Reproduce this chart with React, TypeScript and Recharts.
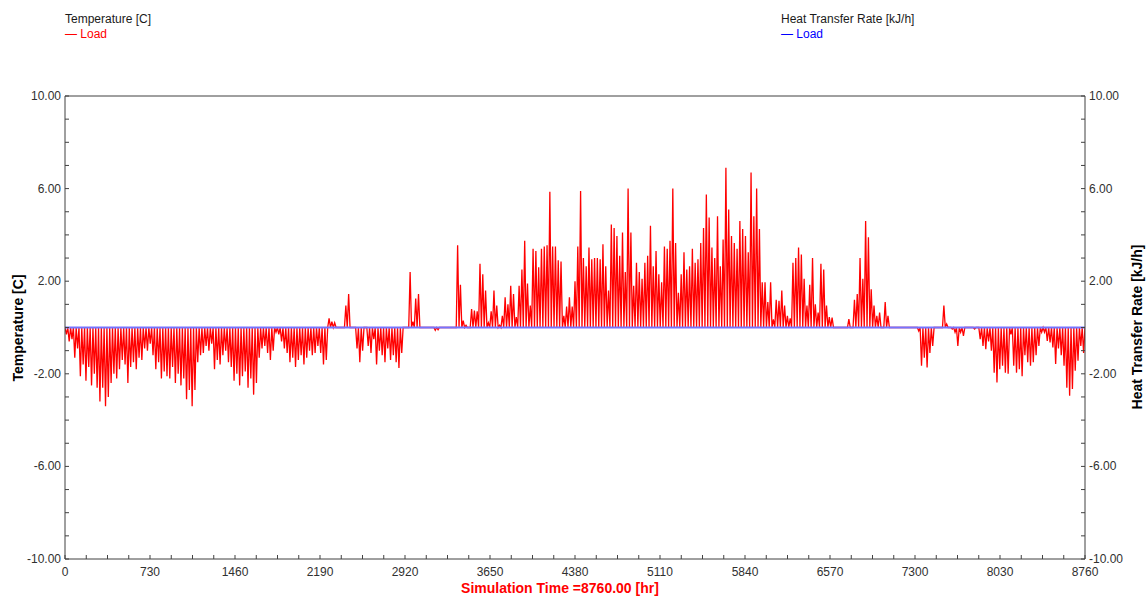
import React from "react";
import { LineChart, Line, XAxis, YAxis, ReferenceLine } from "recharts";

// Daily peak of the "Load" temperature curve (one value per day)
const PEAK_Q1 = [
  -0.3, -0.6, -0.5, -1.3, -0.9, -2.1, -1.6, -2.3, -1.7, -2.5,
  -2.0, -2.6, -3.2, -2.6, -3.4, -3.0, -2.4, -2.0, -2.2, -1.8,
  -1.4, -1.6, -2.4, -1.7, -1.5, -1.8, -1.3, -1.4, -0.9, -1.0,
  -0.7, -1.2, -1.8, -1.5, -2.2, -1.9, -2.1, -2.2, -1.7, -2.4,
  -2.0, -2.5, -2.2, -3.1, -2.7, -3.4, -2.7, -1.5, -1.2, -1.1,
  -0.8, -1.0, -0.7, -1.8, -1.4, -1.6, -1.2, -1.0, -1.5, -1.7,
  -2.3, -2.0, -2.5, -2.1, -1.9, -2.6, -2.2, -2.9, -2.4, -1.3,
  -0.9, -0.8, -1.1, -1.4, -1.0, -0.2, -0.3, -0.6, -0.9, -1.1,
  -1.5, -1.3, -1.7, -1.4, -1.2, -1.6, -1.3, -1.0, -1.2, -1.1,
  -0.8,
];
const PEAK_Q2 = [
  -1.1, -1.6, -1.4, 0.4, 0.25, 0.2, 0, 0, 0, 0.95,
  1.45, 0, 0, -0.9, -1.5, -1.0, 0, -0.8, -1.1, -0.5,
  -1.6, -1.0, -1.2, -1.5, -0.9, -1.4, -1.2, -1.5, -1.75, -1.1,
  0, 0, 2.4, 0.25, 1.25, 1.45, 0, 0, 0, 0,
  0, -0.12, -0.1, 0, 0, 0, 0, 0, 0, 3.55,
  1.85, 0.3, 0.1, 0, 0.8, 0.73, 0.7, 2.75, 2.3, 1.6,
  0.2, 0.7, 1.6, 0.95, 0.1, 0.5, 1.3, 1.0, 1.8, 1.45,
  0.45, 1.8, 2.5, 3.75, 1.9, 0.95, 3.4, 3.3, 2.6, 3.4,
  3.5, 3.55, 5.86, 3.5, 3.5, 2.9, 2.85, 0.5, 0.9, 1.3,
  0.9,
];
const PEAK_Q3 = [
  2.0, 3.5, 5.9, 3.0, 2.65, 3.45, 2.95, 3.0, 3.0, 2.95,
  3.6, 2.65, 1.6, 4.45, 4.3, 3.95, 3.1, 4.1, 2.4, 6.0,
  4.1, 1.8, 2.8, 2.4, 2.1, 2.8, 3.1, 4.4, 2.65, 3.3,
  2.3, 1.95, 3.5, 3.4, 3.75, 6.0, 3.65, 1.5, 2.3, 3.25,
  2.5, 2.65, 3.4, 2.8, 2.95, 3.65, 4.3, 5.75, 4.75, 3.45,
  3.0, 4.8, 2.65, 3.8, 6.9, 5.1, 3.95, 3.65, 3.4, 4.6,
  4.25, 3.95, 3.25, 6.7, 4.8, 6.0, 4.25, 1.95, 1.95, 1.1,
  1.95, 0.35, 1.2, 1.15, 1.6, 0.95, 0.5, 0.4, 2.8, 3.0,
  3.45, 3.15, 2.1, 0.95, 1.85, 3.0, 1.0, 0.65, 2.75, 2.5,
  0.95, 0.45,
];
const PEAK_Q4 = [
  0.43, 0, 0, 0, 0, 0, 0.36, 0, 1.2, 1.45,
  3.0, 2.1, 4.6, 3.9, 1.65, 0.95, 0.5, 0.65, 0, 1.1,
  0.5, 0, 0, 0, 0, 0, 0, 0, 0, 0,
  0, -0.15, -1.65, -1.3, -1.73, -1.1, -0.8, 0, 0, 0,
  0.95, 0.15, 0, -0.07, -0.2, -0.8, -0.2, -0.36, 0, 0,
  0, -0.07, 0, -0.5, -0.8, -0.94, -0.6, -1.0, -1.95, -2.37,
  -1.8, -1.65, -1.95, -2.0, -0.3, -1.65, -1.95, -1.8, -2.1, -1.2,
  -1.5, -1.65, -1.5, -1.2, -0.8, -0.2, -0.2, -0.58, -0.65, -0.86,
  -1.58, -0.9, -1.2, -1.65, -2.6, -2.95, -2.66, -1.87, -1.44, -0.8,
  -1.1,
];

// Heat transfer rate "Load" (flat at zero)
const HEAT_TIMES = [0, 8760];
const HEAT_VALUES = [0, 0];

// Axis ticks
const X_MAJOR = [0, 730, 1460, 2190, 2920, 3650, 4380, 5110, 5840, 6570, 7300, 8030, 8760];
const Y_MAJOR = [-10, -6, -2, 2, 6, 10];
const Y_TICKS = [-10, -9, -8, -7, -6, -5, -4, -3, -2, -1, 0, 1, 2, 3, 4, 5, 6, 7, 8, 9, 10];

const HOURS_PER_DAY = 24;
const PEAKS = [...PEAK_Q1, ...PEAK_Q2, ...PEAK_Q3, ...PEAK_Q4];
const loadData: { t: number; load: number }[] = [];
PEAKS.forEach((p, d) => {
  loadData.push({ t: d * HOURS_PER_DAY, load: 0 });
  loadData.push({ t: d * HOURS_PER_DAY + HOURS_PER_DAY / 2, load: p });
});
loadData.push({ t: 8760, load: 0 });

const heatData = HEAT_TIMES.map((t, i) => ({ t, heat: HEAT_VALUES[i] }));

const X_TICKS: number[] = [];
X_MAJOR.forEach((m, i) => {
  X_TICKS.push(m);
  if (i < X_MAJOR.length - 1) {
    const step = (X_MAJOR[i + 1] - m) / 4;
    X_TICKS.push(m + step, m + 2 * step, m + 3 * step);
  }
});

const W = 1146;
const H = 596;
const PLOT = { left: 65, right: 1085, top: 96, bottom: 559 };
const AXIS = "#404040";
const TXT = "#303030";
const FONT = "'Liberation Sans', Arial, sans-serif";

function LeftTick(props: any) {
  const { y, payload } = props;
  const v = payload.value;
  return (
    <g>
      <line x1={PLOT.left} x2={PLOT.left + 4} y1={y} y2={y} stroke={AXIS} />
      {Y_MAJOR.includes(v) && (
        <text x={PLOT.left - 4} y={y + 4} textAnchor="end" fontSize={12} fill={TXT} fontFamily={FONT}>
          {v.toFixed(2)}
        </text>
      )}
    </g>
  );
}

function RightTick(props: any) {
  const { y, payload } = props;
  const v = payload.value;
  return (
    <g>
      <line x1={PLOT.right - 4} x2={PLOT.right} y1={y} y2={y} stroke={AXIS} />
      {Y_MAJOR.includes(v) && (
        <text x={PLOT.right + 4} y={y + 4} textAnchor="start" fontSize={12} fill={TXT} fontFamily={FONT}>
          {v.toFixed(2)}
        </text>
      )}
    </g>
  );
}

function BottomTick(props: any) {
  const { x, payload } = props;
  const v = payload.value;
  return (
    <g>
      <line x1={x} x2={x} y1={PLOT.bottom - 4} y2={PLOT.bottom} stroke={AXIS} />
      {X_MAJOR.includes(v) && (
        <text x={x} y={PLOT.bottom + 17} textAnchor="middle" fontSize={12} fill={TXT} fontFamily={FONT}>
          {String(v)}
        </text>
      )}
    </g>
  );
}

export default function App() {
  return (
    <div style={{ position: "absolute", left: 0, top: 0, width: W, height: H, background: "#fff" }}>
      <LineChart width={W} height={H} margin={{ top: PLOT.top, right: 0, bottom: 0, left: 0 }}>
        <XAxis
          type="number"
          dataKey="t"
          domain={[0, 8760]}
          ticks={X_TICKS}
          interval={0}
          height={H - PLOT.bottom}
          tick={<BottomTick />}
          tickLine={false}
          axisLine={{ stroke: AXIS }}
          allowDataOverflow
        />
        <YAxis
          yAxisId="left"
          type="number"
          domain={[-10, 10]}
          ticks={Y_TICKS}
          interval={0}
          width={PLOT.left}
          tick={<LeftTick />}
          tickLine={false}
          axisLine={{ stroke: AXIS }}
          allowDataOverflow
        />
        <YAxis
          yAxisId="right"
          orientation="right"
          type="number"
          domain={[-10, 10]}
          ticks={Y_TICKS}
          interval={0}
          width={W - PLOT.right}
          tick={<RightTick />}
          tickLine={false}
          axisLine={{ stroke: AXIS }}
          allowDataOverflow
        />
        <ReferenceLine yAxisId="left" y={10} stroke={AXIS} />
        <Line
          yAxisId="left"
          data={loadData}
          dataKey="load"
          type="linear"
          stroke="#ff0000"
          strokeWidth={1.3}
          dot={false}
          activeDot={false}
          isAnimationActive={false}
        />
        <Line
          yAxisId="right"
          data={heatData}
          dataKey="heat"
          type="linear"
          stroke="#7474ff"
          strokeWidth={2}
          dot={false}
          activeDot={false}
          isAnimationActive={false}
        />
      </LineChart>
      <svg
        width={W}
        height={H}
        style={{ position: "absolute", left: 0, top: 0, pointerEvents: "none" }}
        fontFamily={FONT}
      >
        <text x={65} y={23} fontSize={12} fill="#1a1a1a">Temperature [C]</text>
        <text x={65} y={38} fontSize={12} fill="#ff0000">— Load</text>
        <text x={781} y={23} fontSize={12} fill="#1a1a1a">Heat Transfer Rate [kJ/h]</text>
        <text x={781} y={38} fontSize={12} fill="#0000ff">— Load</text>
        <text
          transform="translate(23,328) rotate(-90)"
          textAnchor="middle"
          fontSize={14}
          fontWeight="bold"
          fill="#000"
        >
          Temperature [C]
        </text>
        <text
          transform="translate(1142,327) rotate(-90)"
          textAnchor="middle"
          fontSize={14}
          fontWeight="bold"
          fill="#000"
        >
          Heat Transfer Rate [kJ/h]
        </text>
        <text x={560} y={593} textAnchor="middle" fontSize={14} fontWeight="bold" fill="#ff0000">
          Simulation Time =8760.00 [hr]
        </text>
      </svg>
    </div>
  );
}
